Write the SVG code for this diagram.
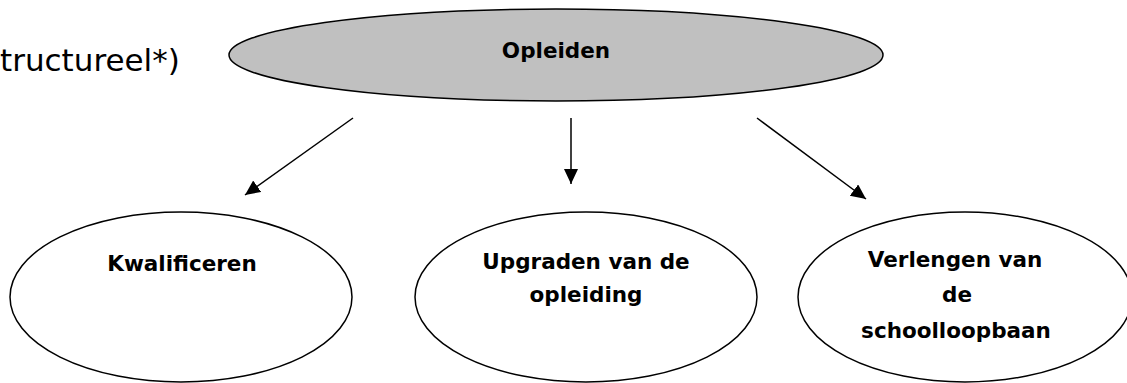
<svg xmlns="http://www.w3.org/2000/svg" width="1127" height="383" viewBox="0 0 1127 383">
<defs>
<style>
.node{stroke:#000;stroke-width:1.5}
.top{fill:#c0c0c0}
.sub{fill:#fff}
.lbl{font-family:"DejaVu Sans",sans-serif;font-weight:bold;font-size:21.5px;fill:#000;text-anchor:middle}
.edge{stroke:#000;stroke-width:1.5;fill:none;marker-end:url(#ah)}
</style>
<marker id="ah" markerUnits="userSpaceOnUse" markerWidth="16" markerHeight="15" refX="15" refY="7" orient="auto" viewBox="0 0 16 15">
<path d="M0,0 L15,7 L0,14 z" fill="#000"/>
</marker>
</defs>
<rect width="1127" height="383" fill="#fff"/>
<text x="0" y="71" font-family="DejaVu Sans, sans-serif" font-size="31" fill="#000">tructureel*)</text>
<g id="opleiden">
<ellipse class="node top" cx="556" cy="55" rx="327" ry="46"/>
<text class="lbl" x="556" y="58">Opleiden</text>
</g>
<g id="kwalificeren">
<ellipse class="node sub" cx="181" cy="297" rx="171" ry="85"/>
<text class="lbl" x="182" y="271">Kwalificeren</text>
</g>
<g id="upgraden">
<ellipse class="node sub" cx="586" cy="297" rx="171" ry="85"/>
<text class="lbl" x="586" y="269">Upgraden van de</text>
<text class="lbl" x="586" y="302">opleiding</text>
</g>
<g id="verlengen">
<ellipse class="node sub" cx="965" cy="297" rx="167" ry="85"/>
<text class="lbl" x="955" y="267">Verlengen van</text>
<text class="lbl" x="957" y="302">de</text>
<text class="lbl" x="956" y="338">schoolloopbaan</text>
</g>
<g id="connectors">
<line class="edge" x1="353" y1="118" x2="245" y2="195"/>
<line class="edge" x1="571" y1="118" x2="571" y2="184"/>
<line class="edge" x1="757" y1="118" x2="866" y2="199"/>
</g>
</svg>
